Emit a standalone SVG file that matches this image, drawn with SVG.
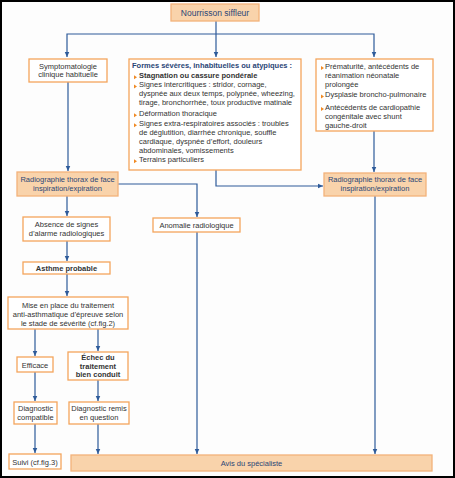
<svg xmlns="http://www.w3.org/2000/svg" width="455" height="478" viewBox="0 0 455 478">
<defs>
<marker id="ah" markerUnits="userSpaceOnUse" markerWidth="6" markerHeight="6" refX="5.5" refY="3" orient="auto">
<path d="M0,0.5 L5.5,3 L0,5.5 z" fill="#2e5b9a"/>
</marker>
<style>
.b{fill:#ffffff;stroke:#f4a55c;stroke-width:1.3}
.o{fill:#f9d3ab;stroke:#f3b27a;stroke-width:1.3}
text{font-family:"Liberation Sans",Arial,sans-serif;font-size:7.5px;fill:#333333}
.c{text-anchor:middle}
.bl{fill:#2a4676}
.bd{font-weight:bold}
.ln{fill:none;stroke:#2e5b9a;stroke-width:1.2;marker-end:url(#ah)}
.bu{fill:#f08a24}
</style>
</defs>
<rect x="1" y="1" width="453" height="476" fill="#fdfdfd" stroke="#000" stroke-width="2"/>

<g id="connectors">
<path class="ln" d="M216,21 V57"/>
<path class="ln" d="M216,34 H67 V57"/>
<path class="ln" d="M216,34 H374 V57"/>
<path class="ln" d="M68,82 V171"/>
<path class="ln" d="M374,131 V172"/>
<path class="ln" d="M216,170 V186 H323"/>
<path class="ln" d="M118,184 H197 V217"/>
<path class="ln" d="M197,232 V454"/>
<path class="ln" d="M67,196 V216"/>
<path class="ln" d="M67,241 V261"/>
<path class="ln" d="M67,274 V296"/>
<path class="ln" d="M35,329 V356"/>
<path class="ln" d="M98,329 V351"/>
<path class="ln" d="M35,372 V401"/>
<path class="ln" d="M98,380 V401"/>
<path class="ln" d="M35,424 V453"/>
<path class="ln" d="M98,424 V454"/>
<path class="ln" d="M375,196 V454"/>
</g>

<g id="n-nourrisson">
<rect class="o" x="171" y="4" width="88" height="17"/>
<text class="c bl" x="215" y="15.5" style="font-size:8.5px">Nourrisson siffleur</text>
</g>

<g id="n-symptomatologie">
<rect class="b" x="29" y="59" width="78" height="23"/>
<text class="c" x="68" y="68.5">Symptomatologie</text>
<text class="c" x="68" y="77">clinique habituelle</text>
</g>

<g id="n-formes">
<rect class="b" x="129" y="59" width="172" height="111"/>
<text class="bl bd" x="132" y="68">Formes sévères, inhabituelles ou atypiques :</text>
<path class="bu" d="M134,75.2 l3,2 l-3,2 z"/>
<text class="bd" x="139" y="78">Stagnation ou cassure pondérale</text>
<path class="bu" d="M134,84.5 l3,2 l-3,2 z"/>
<text x="139" y="87.3">Signes intercritiques : stridor, cornage,</text>
<text x="139" y="96.3">dyspnée aux deux temps, polypnée, wheezing,</text>
<text x="139" y="105.3">tirage, bronchorrhée, toux productive matinale</text>
<path class="bu" d="M134,113.2 l3,2 l-3,2 z"/>
<text x="139" y="116">Déformation thoracique</text>
<path class="bu" d="M134,123.2 l3,2 l-3,2 z"/>
<text x="139" y="126">Signes extra-respiratoires associés : troubles</text>
<text x="139" y="135">de déglutition, diarrhée chronique, souffle</text>
<text x="139" y="143.7">cardiaque, dyspnée d’effort, douleurs</text>
<text x="139" y="152.5">abdominales, vomissements</text>
<path class="bu" d="M134,159.2 l3,2 l-3,2 z"/>
<text x="139" y="162">Terrains particuliers</text>
</g>

<g id="n-prematurite">
<rect class="b" x="316" y="59" width="117" height="72"/>
<path class="bu" d="M321,66 l3,2 l-3,2 z"/>
<text x="325" y="68.5">Prématurité, antécédents de</text>
<text x="325" y="77.5">réanimation néonatale</text>
<text x="325" y="86.5">prolongée</text>
<path class="bu" d="M321,94.5 l3,2 l-3,2 z"/>
<text x="325" y="97">Dysplasie broncho-pulmonaire</text>
<path class="bu" d="M321,107 l3,2 l-3,2 z"/>
<text x="325" y="109.5">Antécédents de cardiopathie</text>
<text x="325" y="118.5">congénitale avec shunt</text>
<text x="325" y="127.5">gauche-droit</text>
</g>

<g id="n-radio-left">
<rect class="o" x="17" y="172" width="101" height="24"/>
<text class="c bl" x="67.5" y="182">Radiographie thorax de face</text>
<text class="c bl" x="67.5" y="191">inspiration/expiration</text>
</g>

<g id="n-radio-right">
<rect class="o" x="324" y="173" width="102" height="23"/>
<text class="c bl" x="375" y="182">Radiographie thorax de face</text>
<text class="c bl" x="375" y="191">inspiration/expiration</text>
</g>

<g id="n-absence">
<rect class="b" x="23" y="217" width="87" height="24"/>
<text class="c" x="66.5" y="226.5">Absence de signes</text>
<text class="c" x="66.5" y="235.5">d’alarme radiologiques</text>
</g>

<g id="n-anomalie">
<rect class="b" x="153" y="218" width="87" height="14"/>
<text class="c" x="196.5" y="227.5">Anomalie radiologique</text>
</g>

<g id="n-asthme">
<rect class="b" x="23" y="262" width="87" height="12"/>
<text class="c bd" x="66.5" y="270.7">Asthme probable</text>
</g>

<g id="n-mise">
<rect class="b" x="8" y="297" width="120" height="32"/>
<text class="c" x="68" y="307.5">Mise en place du traitement</text>
<text class="c" x="68" y="316.5">anti-asthmatique d’épreuve selon</text>
<text class="c" x="68" y="325.5">le stade de sévérité (cf.fig.2)</text>
</g>

<g id="n-efficace">
<rect class="b" x="17" y="357" width="36" height="15"/>
<text class="c" x="35" y="367.5">Efficace</text>
</g>

<g id="n-echec">
<rect class="b" x="68" y="352" width="60" height="28"/>
<text class="c bd" x="98" y="359.5">Échec du</text>
<text class="c bd" x="98" y="368.5">traitement</text>
<text class="c bd" x="98" y="377">bien conduit</text>
</g>

<g id="n-diag-compatible">
<rect class="b" x="14" y="402" width="43" height="22"/>
<text class="c" x="35.5" y="410.5">Diagnostic</text>
<text class="c" x="35.5" y="419.5">compatible</text>
</g>

<g id="n-diag-remis">
<rect class="b" x="69" y="402" width="60" height="22"/>
<text class="c" x="99" y="410.5">Diagnostic remis</text>
<text class="c" x="99" y="419.5">en question</text>
</g>

<g id="n-suivi">
<rect class="b" x="9" y="454" width="52" height="15"/>
<text class="c" x="35" y="464.5">Suivi (cf.fig.3)</text>
</g>

<g id="n-avis">
<rect class="o" x="71" y="455" width="361" height="16"/>
<text class="c bl" x="251.5" y="465.5">Avis du spécialiste</text>
</g>
</svg>
